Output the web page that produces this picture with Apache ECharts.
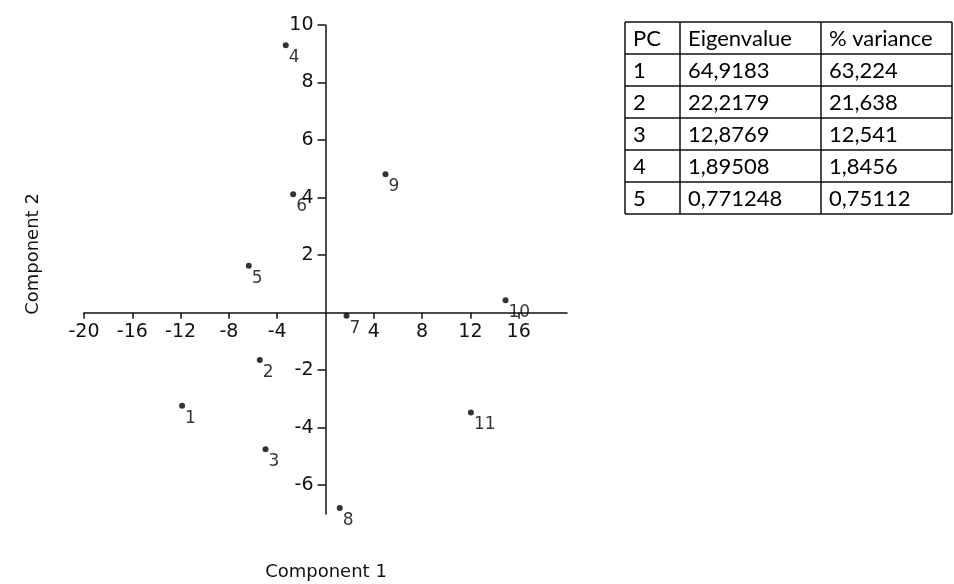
<!DOCTYPE html>
<html>
<head>
<meta charset="utf-8">
<script src="https://cdn.jsdelivr.net/npm/echarts@6/dist/echarts.min.js"></script>
<style>
  html, body { margin: 0; padding: 0; background: #fff; }
  #chart { width: 954px; height: 584px; }
</style>
</head>
<body>
<div id="chart"></div>
<script>
// ---- data ----
const pointNames = ['1', '2', '3', '4', '5', '6', '7', '8', '9', '10', '11'];
const comp1 = [-11.88, -5.44, -4.97, -3.29, -6.35, -2.68, 1.74, 1.18, 4.97, 14.91, 12.04];
const comp2 = [-3.24, -1.65, -4.75, 9.30, 1.63, 4.12, -0.11, -6.79, 4.81, 0.43, -3.47];
const xTicks = [-20, -16, -12, -8, -4, 4, 8, 12, 16];
const yTicks = [-6, -4, -2, 2, 4, 6, 8, 10];
const tableHeader = ['PC', 'Eigenvalue', '% variance'];
const pcCol = ['1', '2', '3', '4', '5'];
const eigenCol = ['64,9183', '22,2179', '12,8769', '1,89508', '0,771248'];
const varCol = ['63,224', '21,638', '12,541', '1,8456', '0,75112'];

// ---- table graphic ----
const tTop = 22, rowH = 32;
const colX = [625, 680, 821, 952];
const nRows = pcCol.length + 1;
const tBottom = tTop + nRows * rowH;
const tableEls = [];
const lineStyle = { stroke: '#111', lineWidth: 1.5 };
for (let r = 0; r <= nRows; r++) {
  const y = tTop + r * rowH;
  tableEls.push({ type: 'line', shape: { x1: colX[0], y1: y, x2: colX[3], y2: y }, style: lineStyle });
}
colX.forEach(x => tableEls.push({ type: 'line', shape: { x1: x, y1: tTop, x2: x, y2: tBottom }, style: lineStyle }));
const rows = [tableHeader].concat(pcCol.map((p, i) => [p, eigenCol[i], varCol[i]]));
rows.forEach((row, r) => {
  row.forEach((txt, c) => {
    tableEls.push({
      type: 'text',
      x: colX[c] + 8,
      y: tTop + r * rowH + rowH / 2 + 1,
      style: { text: txt, font: '22px Lato', fill: '#000', textVerticalAlign: 'middle', textAlign: 'left' }
    });
  });
});

const chart = echarts.init(document.getElementById('chart'));
const tickFont = { fontFamily: 'DejaVu Sans', fontSize: 19, color: '#111' };
const titleFont = '18px "DejaVu Sans"';
const option = {
  animation: false,
  backgroundColor: '#fff',
  grid: { left: 84, right: 387, top: 25, bottom: 70 },
  xAxis: {
    type: 'value', min: -20, max: 20,
    axisLine: { onZero: false, lineStyle: { color: '#111', width: 1.5 } },
    axisTick: { show: true, customValues: xTicks, length: 6, lineStyle: { color: '#111', width: 1.5 } },
    axisLabel: Object.assign({ customValues: xTicks, margin: 10 }, tickFont),
    splitLine: { show: false }
  },
  yAxis: {
    type: 'value', min: -7, max: 10,
    axisLine: { onZero: false, lineStyle: { color: '#111', width: 1.5 } },
    axisTick: { show: true, customValues: yTicks, length: 8, lineStyle: { color: '#111', width: 1.5 } },
    axisLabel: Object.assign({ customValues: yTicks, margin: 12 }, tickFont),
    splitLine: { show: false }
  },
  series: [{
    type: 'scatter',
    symbol: 'circle',
    symbolSize: 6,
    itemStyle: { color: '#000' },
    data: comp1.map((x, i) => ({ value: [x, comp2[i]], name: pointNames[i] })),
    label: {
      show: true,
      formatter: '{b}',
      position: [6, 7],
      align: 'left',
      verticalAlign: 'top',
      fontFamily: 'DejaVu Sans',
      fontSize: 17,
      color: '#000'
    }
  }],
  graphic: [
    {
      type: 'text', x: 326, y: 572,
      style: { text: 'Component 1', font: titleFont, fill: '#111', textAlign: 'center', textVerticalAlign: 'middle' }
    },
    {
      type: 'text', x: 33, y: 254, rotation: Math.PI / 2,
      style: { text: 'Component 2', font: titleFont, fill: '#111', textAlign: 'center', textVerticalAlign: 'middle' }
    }
  ].concat(tableEls)
};
chart.setOption(option);

// Move both axes so they cross at the origin (labels and ticks follow)
const origin = chart.convertToPixel({ gridIndex: 0 }, [0, 0]);
const bottomLeft = chart.convertToPixel({ gridIndex: 0 }, [-20, -7]);
chart.setOption({
  xAxis: { offset: -(bottomLeft[1] - origin[1]) },
  yAxis: { offset: -(origin[0] - bottomLeft[0]) }
});
</script>
</body>
</html>
